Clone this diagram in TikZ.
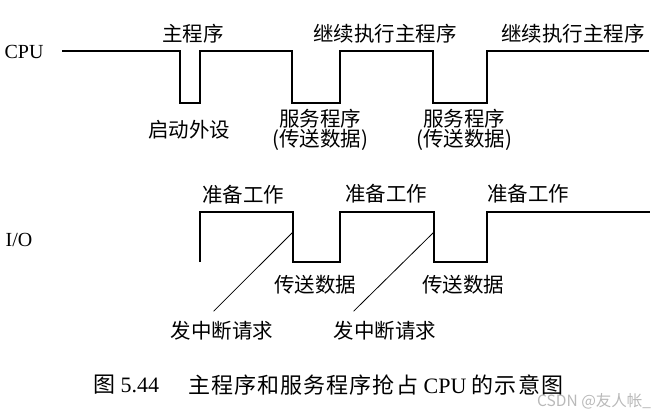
\documentclass[tikz,border=0pt]{standalone}
\usepackage{fontspec}
\setmainfont{Liberation Serif}
\newfontfamily\cjk{Noto Sans CJK SC}
\newfontfamily\cjkcap{Noto Sans CJK SC}[LetterSpace=5]
\usetikzlibrary{calc}

\begin{document}
\begin{tikzpicture}[x=1pt,y=-1pt,
    wave/.style={line width=1.6pt,line join=miter},
    hint/.style={line width=0.8pt},
    tag/.style={inner sep=0pt,font=\cjk\fontsize{20.5}{20}\selectfont},
    sig/.style={inner sep=0pt,font=\fontsize{20}{20}\selectfont},
    captext/.style={inner sep=0pt,anchor=west,font=\fontsize{22}{22}\selectfont}]
  \useasboundingbox (0,0) rectangle (668,417);

  % CPU line
  \node[sig] (cpu) at (24,52) {CPU};
  \draw[wave] (62,51) -- (180,51) -- (180,103) -- (200,103) -- (200,51)
    -- (292,51) -- (292,103) -- (340,103) -- (340,51)
    -- (433,51) -- (433,103) -- (487,103) -- (487,51) -- (649,51);

  \node[tag] (main) at (193,34) {主程序};
  \node[tag] (go on 1) at (385,34) {继续执行主程序};
  \node[tag] (go on 2) at (573,34) {继续执行主程序};
  \node[tag] (start dev) at (189,130) {启动外设};
  \node[tag,align=center] (serve 1) at (320,130) {服务程序\\(传送数据)};
  \node[tag,align=center] (serve 2) at (464,130) {服务程序\\(传送数据)};

  % I/O line
  \node[sig] (io) at (19,240) {I/O};
  \draw[wave] (200,262) -- (200,212) -- (293,212) -- (293,262) -- (340,262)
    -- (340,212) -- (434,212) -- (434,262) -- (487,262) -- (487,212) -- (650,212);

  \node[tag] (prep 1) at (243,195) {准备工作};
  \node[tag] (prep 2) at (386,194) {准备工作};
  \node[tag] (prep 3) at (528,194) {准备工作};
  \node[tag] (send 1) at (315,285) {传送数据};
  \node[tag] (send 2) at (463,285) {传送数据};
  \node[tag] (req 1) at (222,331) {发中断请求};
  \node[tag] (req 2) at (385,331) {发中断请求};

  \coordinate (hit 1) at (293,232);
  \coordinate (hit 2) at (434,232);
  \draw[hint] ([xshift=43pt,yshift=10pt]req 1.north west) -- (hit 1);
  \draw[hint] ([xshift=20pt,yshift=10pt]req 2.north west) -- (hit 2);

  % caption
  \node[captext] (fig no) at (93,385) {{\cjk 图} 5.44};
  \node[captext] (fig title) at (188,385)
    {{\cjkcap 主程序和服务程序抢占}\ CPU\ {\cjkcap 的示意图}};
  \node[anchor=west,inner sep=0pt,text=gray!55,font=\cjk\fontsize{15.5}{15}\selectfont]
    (mark) at (537,401) {CSDN @友人帐\_};
\end{tikzpicture}
\end{document}
